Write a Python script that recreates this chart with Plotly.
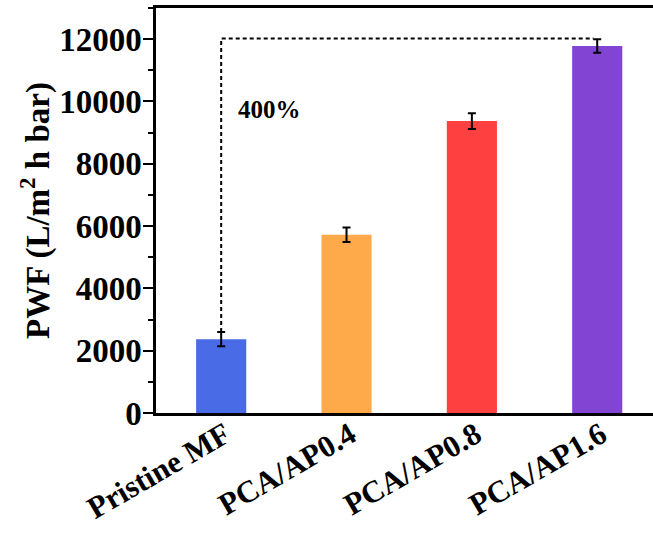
import plotly.graph_objects as go

# Pure water flux of the membranes
categories = ["Pristine MF", "PCA/AP0.4", "PCA/AP0.8", "PCA/AP1.6"]
pwf = [2370, 5720, 9370, 11780]
pwf_err = [230, 235, 250, 220]
colors = ["#4a6be6", "#ffaa4a", "#ff4040", "#8244d2"]
y_ticks = [0, 2000, 4000, 6000, 8000, 10000, 12000]
gain_label = "400%"

FONT = "Liberation Serif, Times New Roman, serif"
pos = list(range(len(categories)))

fig = go.Figure()

fig.add_trace(go.Bar(
    x=pos, y=pwf, width=0.4,
    marker=dict(color=colors, line=dict(width=0)),
    error_y=dict(type="data", array=pwf_err, color="black", thickness=2, width=4),
    showlegend=False,
))

# dashed guide from the pristine bar up and across to the best membrane
y_top = pwf[-1] + pwf_err[-1] + 20
fig.add_trace(go.Scatter(
    x=[pos[0], pos[0], pos[-1] - 0.03],
    y=[pwf[0] + pwf_err[0], y_top, y_top],
    mode="lines",
    line=dict(color="black", width=2, dash="4px,3px"),
    showlegend=False, hoverinfo="skip",
))

fig.add_annotation(
    x=pos[0] + 0.12, y=9750, xref="x", yref="y",
    text="<b>" + gain_label + "</b>", showarrow=False, xanchor="left", yanchor="middle",
    font=dict(family=FONT, size=25, color="black"),
)

fig.update_layout(
    width=653, height=533,
    margin=dict(l=156, r=0, t=8, b=120),
    paper_bgcolor="white", plot_bgcolor="white",
    font=dict(family=FONT, color="black"),
    bargap=0.6,
)

fig.update_xaxes(
    range=[-0.52, 3.445],
    tickvals=pos, ticktext=["<b>" + c + "</b>" for c in categories],
    tickangle=-30, tickfont=dict(family=FONT, size=31, color="black"),
    ticklabelstandoff=-11, ticklabelshift=4,
    showline=True, linecolor="black", linewidth=2.5, mirror=True,
    ticks="", showgrid=False, zeroline=False, automargin=False,
)

fig.update_yaxes(
    range=[0, 13000],
    tickvals=y_ticks, ticktext=["<b>%d</b>" % v for v in y_ticks],
    tickfont=dict(family=FONT, size=33, color="black"),
    ticks="outside", ticklen=10, tickwidth=2, tickcolor="black",
    ticklabelstandoff=-5,
    minor=dict(dtick=1000, ticks="outside", ticklen=5, tickwidth=2, tickcolor="black", showgrid=False),
    showline=True, linecolor="black", linewidth=2.5, mirror=False,
    showgrid=False, zeroline=False, automargin=False,
    title=dict(text="<b>PWF (L/m<sup>2</sup> h bar)</b>", font=dict(family=FONT, size=33, color="black"), standoff=0),
)

fig.write_html("out.html")
